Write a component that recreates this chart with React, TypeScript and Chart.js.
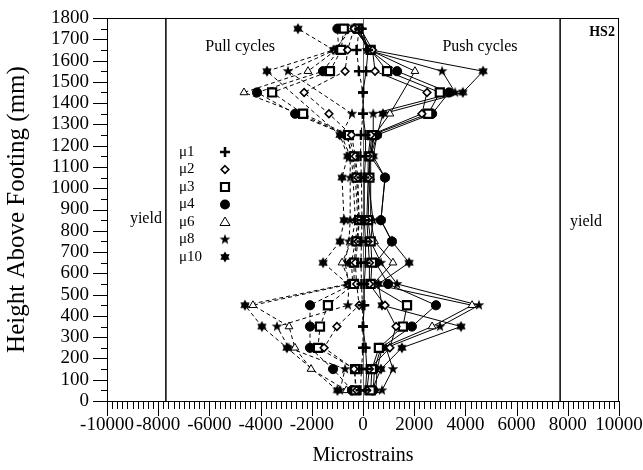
import React, { useEffect, useRef } from 'react';
import { Chart, registerables } from 'chart.js';

Chart.register(...registerables);

const FONT = "'Liberation Serif', 'Times New Roman', serif";

// Gauge heights above footing (mm)
const HEIGHTS = [50, 150, 250, 350, 450, 550, 650, 750, 850, 1050, 1150, 1250, 1350, 1450, 1550, 1650, 1750];

const LEVELS = ['μ1', 'μ2', 'μ3', 'μ4', 'μ6', 'μ8', 'μ10'];

// Pull cycles (dashed) – microstrains at each height
const PULL_MU1 = [-100, -60, 0, 0, -20, -60, -80, -60, -40, -60, -100, -80, 0, 0, -160, -250, -150];
const PULL_MU2 = [-250, -350, -1520, -1020, -150, -250, -300, -200, -150, -200, -300, -450, -1330, -2300, -700, -600, -350];
const PULL_MU3 = [-300, -310, -1760, -1680, -1370, -350, -350, -250, -150, -250, -350, -550, -2340, -3550, -1290, -850, -750];
const PULL_MU4 = [-430, -1170, -2070, -2070, -2070, -400, -450, -300, -200, -300, -400, -650, -2650, -4140, -1560, -950, -1000];
const PULL_MU6 = [-650, -2030, -2660, -2890, -4300, -500, -820, -450, -300, -390, -450, -620, -2500, -4650, -2150, -1050, -550];
const PULL_MU8 = [-900, -700, -2900, -3360, -590, -550, -700, -550, -500, -500, -500, -850, -430, null, -2930, -1100, -450];
const PULL_MU10 = [-1000, null, -2970, -3950, -4610, -590, -1560, -900, -740, -820, -600, -900, null, null, -3750, -1150, -2540];

// Push cycles (solid)
const PUSH_MU1 = [100, 150, 100, 0, 50, 50, 100, 100, 50, 50, 100, 100, 0, 0, 120, 200, -50];
const PUSH_MU2 = [150, 250, 1050, 1290, 860, 250, 250, 200, 150, 200, 200, 300, 2300, 2500, 470, 370, -100];
const PUSH_MU3 = [300, 350, 620, 1560, 1720, 300, 350, 300, 200, 250, 250, 350, 2550, 3000, 940, 300, -200];
const PUSH_MU4 = [400, 450, 700, 1910, 2850, 980, 500, 1130, 700, 860, 300, 550, 2700, 3360, 1330, 250, -300];
const PUSH_MU6 = [500, 550, 750, 2700, 4260, 400, 1170, 450, 300, 300, 300, 450, 1050, null, 2030, 250, -250];
const PUSH_MU8 = [740, 1170, 900, 3010, 4530, 1330, 700, 300, 390, 200, 300, 400, 400, 3600, 3090, 150, -150];
const PUSH_MU10 = [350, 700, 1520, 3830, 740, 600, 1800, 1130, 700, 860, 400, 550, 780, 3900, 4690, 300, -350];

const PULL = [PULL_MU1, PULL_MU2, PULL_MU3, PULL_MU4, PULL_MU6, PULL_MU8, PULL_MU10];
const PUSH = [PUSH_MU1, PUSH_MU2, PUSH_MU3, PUSH_MU4, PUSH_MU6, PUSH_MU8, PUSH_MU10];

const X_TICKS = [-10000, -8000, -6000, -4000, -2000, 0, 2000, 4000, 6000, 8000, 10000];
const Y_TICKS = [0, 100, 200, 300, 400, 500, 600, 700, 800, 900, 1000, 1100, 1200, 1300, 1400, 1500, 1600, 1700, 1800];

const YIELD_STRAIN = 7700;

function makeStarCanvas(points: number, outer: number, inner: number): HTMLCanvasElement {
  const size = 12;
  const c = document.createElement('canvas');
  c.width = size;
  c.height = size;
  const g = c.getContext('2d') as CanvasRenderingContext2D;
  g.beginPath();
  for (let i = 0; i < points * 2; i++) {
    const r = i % 2 === 0 ? outer : inner;
    const a = -Math.PI / 2 + (i * Math.PI) / points;
    const px = size / 2 + r * Math.cos(a);
    const py = size / 2 + r * Math.sin(a);
    if (i === 0) g.moveTo(px, py);
    else g.lineTo(px, py);
  }
  g.closePath();
  g.fillStyle = '#000';
  g.fill();
  return c;
}

function drawMarker(ctx: CanvasRenderingContext2D, idx: number, x: number, y: number, imgs: HTMLCanvasElement[]) {
  ctx.save();
  ctx.strokeStyle = '#000';
  ctx.fillStyle = '#000';
  if (idx === 0) {
    ctx.lineWidth = 2.5;
    ctx.beginPath();
    ctx.moveTo(x - 5, y);
    ctx.lineTo(x + 5, y);
    ctx.moveTo(x, y - 5);
    ctx.lineTo(x, y + 5);
    ctx.stroke();
  } else if (idx === 1) {
    ctx.lineWidth = 1.6;
    ctx.fillStyle = '#fff';
    ctx.beginPath();
    ctx.moveTo(x, y - 3.8);
    ctx.lineTo(x + 3.8, y);
    ctx.lineTo(x, y + 3.8);
    ctx.lineTo(x - 3.8, y);
    ctx.closePath();
    ctx.fill();
    ctx.stroke();
  } else if (idx === 2) {
    ctx.lineWidth = 2.2;
    ctx.fillStyle = '#fff';
    ctx.beginPath();
    ctx.rect(x - 4, y - 4, 8, 8);
    ctx.fill();
    ctx.stroke();
  } else if (idx === 3) {
    ctx.beginPath();
    ctx.arc(x, y, 5, 0, Math.PI * 2);
    ctx.fill();
  } else if (idx === 4) {
    ctx.lineWidth = 1;
    ctx.fillStyle = '#fff';
    ctx.beginPath();
    ctx.moveTo(x, y - 5);
    ctx.lineTo(x + 5, y + 3.5);
    ctx.lineTo(x - 5, y + 3.5);
    ctx.closePath();
    ctx.fill();
    ctx.stroke();
  } else {
    const img = imgs[idx - 5];
    ctx.drawImage(img, x - img.width / 2, y - img.height / 2);
  }
  ctx.restore();
}

export default function App() {
  const ref = useRef<HTMLCanvasElement | null>(null);

  useEffect(() => {
    const canvas = ref.current;
    if (!canvas) return;

    const star5 = makeStarCanvas(5, 5.6, 2.3);
    const star6 = makeStarCanvas(6, 5.4, 3.3);
    const imgs = [star5, star6];

    const pointSpecs: any[] = [
      { pointStyle: 'cross', pointRadius: 5, pointBorderWidth: 2.5, pointBackgroundColor: '#000' },
      { pointStyle: 'rectRot', pointRadius: 3.8, pointBorderWidth: 1.6, pointBackgroundColor: '#fff' },
      { pointStyle: 'rect', pointRadius: 5.7, pointBorderWidth: 2.2, pointBackgroundColor: '#fff' },
      { pointStyle: 'circle', pointRadius: 4.6, pointBorderWidth: 1, pointBackgroundColor: '#000' },
      { pointStyle: 'triangle', pointRadius: 4.5, pointBorderWidth: 1, pointBackgroundColor: '#fff' },
      { pointStyle: star5, pointRadius: 6, pointBorderWidth: 0, pointBackgroundColor: '#000' },
      { pointStyle: star6, pointRadius: 6, pointBorderWidth: 0, pointBackgroundColor: '#000' },
    ];

    const datasets: any[] = [];
    LEVELS.forEach((lvl, i) => {
      datasets.push({
        label: lvl + ' pull',
        data: HEIGHTS.map((h, k) => ({ x: PULL[i][k], y: h })),
        borderColor: '#000',
        borderWidth: 1,
        borderDash: [4, 3],
        pointBorderColor: '#000',
        spanGaps: true,
        tension: 0,
        fill: false,
        ...pointSpecs[i],
      });
    });
    LEVELS.forEach((lvl, i) => {
      datasets.push({
        label: lvl + ' push',
        data: HEIGHTS.map((h, k) => ({ x: PUSH[i][k], y: h })),
        borderColor: '#000',
        borderWidth: 1,
        pointBorderColor: '#000',
        spanGaps: true,
        tension: 0,
        fill: false,
        ...pointSpecs[i],
      });
    });

    const decor = {
      id: 'decor',
      beforeDatasetsDraw(chart: any) {
        const { ctx, chartArea: a, scales } = chart;
        const xs = scales.x;
        ctx.save();
        ctx.strokeStyle = '#666';
        ctx.lineWidth = 1;
        const x0 = Math.round(xs.getPixelForValue(0)) + 0.5;
        ctx.beginPath();
        ctx.moveTo(x0, a.top);
        ctx.lineTo(x0, a.bottom);
        ctx.stroke();
        ctx.strokeStyle = '#000';
        ctx.lineWidth = 1.5;
        [-YIELD_STRAIN, YIELD_STRAIN].forEach((v) => {
          const px = xs.getPixelForValue(v);
          ctx.beginPath();
          ctx.moveTo(px, a.top);
          ctx.lineTo(px, a.bottom);
          ctx.stroke();
        });
        ctx.lineWidth = 1;
        ctx.beginPath();
        ctx.moveTo(a.left, a.top + 0.5);
        ctx.lineTo(a.right, a.top + 0.5);
        ctx.moveTo(a.right - 0.5, a.top);
        ctx.lineTo(a.right - 0.5, a.bottom);
        ctx.stroke();
        ctx.restore();
      },
      afterDraw(chart: any) {
        const { ctx, chartArea: a, scales } = chart;
        const xs = scales.x;
        const ys = scales.y;
        ctx.save();
        ctx.strokeStyle = '#000';
        ctx.lineWidth = 1;
        ctx.beginPath();
        X_TICKS.forEach((v, i) => {
          const px = Math.round(xs.getPixelForValue(v)) + 0.5;
          ctx.moveTo(px, a.bottom);
          ctx.lineTo(px, a.bottom + 15);
          if (i < X_TICKS.length - 1) {
            const step = (X_TICKS[i + 1] - v) / 10;
            for (let m = 1; m < 10; m++) {
              const mx = Math.round(xs.getPixelForValue(v + m * step)) + 0.5;
              ctx.moveTo(mx, a.bottom);
              ctx.lineTo(mx, a.bottom + 8);
            }
          }
        });
        Y_TICKS.forEach((v, i) => {
          const py = Math.round(ys.getPixelForValue(v)) + 0.5;
          ctx.moveTo(a.left - 14, py);
          ctx.lineTo(a.left, py);
          if (i < Y_TICKS.length - 1) {
            const my = Math.round(ys.getPixelForValue((v + Y_TICKS[i + 1]) / 2)) + 0.5;
            ctx.moveTo(a.left - 6, my);
            ctx.lineTo(a.left, my);
          }
        });
        ctx.stroke();

        ctx.fillStyle = '#000';
        ctx.textBaseline = 'middle';
        ctx.font = `16px ${FONT}`;
        ctx.textAlign = 'center';
        ctx.fillText('Pull cycles', xs.getPixelForValue(-4800), ys.getPixelForValue(1667));
        ctx.fillText('Push cycles', xs.getPixelForValue(4570), ys.getPixelForValue(1667));
        ctx.fillText('yield', xs.getPixelForValue(-8480), ys.getPixelForValue(858));
        ctx.fillText('yield', xs.getPixelForValue(8710), ys.getPixelForValue(840));
        ctx.font = `bold 14px ${FONT}`;
        ctx.textAlign = 'right';
        ctx.fillText('HS2', xs.getPixelForValue(9840), ys.getPixelForValue(1732));

        ctx.font = `15px ${FONT}`;
        ctx.textAlign = 'left';
        LEVELS.forEach((lvl, i) => {
          const ly = a.top + 134 + i * 17.5;
          ctx.fillText(lvl, a.left + 72, ly);
          drawMarker(ctx, i, a.left + 118, ly, imgs);
        });
        ctx.restore();
      },
    };

    const chart = new Chart(canvas, {
      type: 'line',
      data: { datasets },
      plugins: [decor],
      options: {
        responsive: false,
        animation: false,
        events: [],
        layout: { padding: { top: 18, right: 24, left: 0, bottom: 0 } },
        plugins: { legend: { display: false }, tooltip: { enabled: false } },
        scales: {
          x: {
            type: 'linear',
            min: -10000,
            max: 10000,
            afterBuildTicks: (s: any) => {
              s.ticks = X_TICKS.map((v) => ({ value: v }));
            },
            afterFit: (s: any) => {
              s.height = 69;
              s.paddingLeft = 0;
              s.paddingRight = 0;
              s.paddingTop = 0;
              s.paddingBottom = 0;
            },
            grid: { display: false, drawTicks: false },
            border: { display: true, color: '#000', width: 1 },
            ticks: {
              color: '#000',
              font: { family: FONT, size: 19 },
              padding: 13,
              maxRotation: 0,
              autoSkip: false,
              callback: (v: any) => String(v),
            },
            title: {
              display: true,
              text: 'Microstrains',
              color: '#000',
              font: { family: FONT, size: 20 },
              padding: { top: 0, bottom: 2 },
            },
          },
          y: {
            type: 'linear',
            min: 0,
            max: 1800,
            afterBuildTicks: (s: any) => {
              s.ticks = Y_TICKS.map((v) => ({ value: v }));
            },
            afterFit: (s: any) => {
              s.width = 107;
              s.paddingLeft = 0;
              s.paddingRight = 0;
              s.paddingTop = 0;
              s.paddingBottom = 0;
            },
            grid: { display: false, drawTicks: false },
            border: { display: true, color: '#000', width: 1 },
            ticks: {
              color: '#000',
              font: { family: FONT, size: 19 },
              padding: 18,
              autoSkip: false,
              callback: (v: any) => String(v),
            },
            title: {
              display: true,
              text: 'Height Above Footing (mm)',
              color: '#000',
              font: { family: FONT, size: 25 },
              padding: { top: 2, bottom: 0 },
            },
          },
        },
      },
    });

    return () => chart.destroy();
  }, []);

  return (
    <div style={{ position: 'fixed', left: 0, top: 0, width: 643, height: 470, background: '#fff' }}>
      <canvas ref={ref} width={643} height={470} style={{ display: 'block' }} />
    </div>
  );
}
